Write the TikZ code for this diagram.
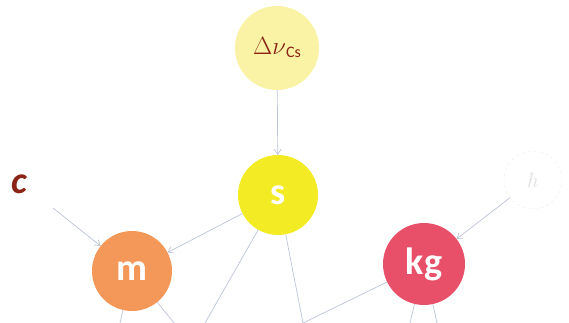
\documentclass[tikz,border=0pt]{standalone}
\usepackage{fontspec}
\setmainfont{Carlito}
\usetikzlibrary{arrows.meta}
\definecolor{paley}{HTML}{FAF3A6}
\definecolor{sy}{HTML}{F3EC24}
\definecolor{mo}{HTML}{F4985A}
\definecolor{kr}{HTML}{E8506A}
\definecolor{dred}{HTML}{8A2416}
\definecolor{lnk}{HTML}{BCC4D8}
\tikzset{
  unit/.style={circle, minimum size=80pt, inner sep=0pt, text=white, font=\fontsize{38}{38}\selectfont\bfseries},
  link/.style={draw=lnk, line width=0.7pt},
  arr/.style={link, -{Straight Barb[length=5pt,width=7pt]}},
}
\begin{document}
\begin{tikzpicture}[x=1pt,y=-1pt]
\useasboundingbox (0,0) rectangle (569,323);
\node[unit, fill=paley, minimum size=84pt, text=dred, font=\fontsize{28}{28}\selectfont] (dnu) at (277,48) {$\Delta\nu$\raisebox{-3pt}{\fontsize{16}{16}\selectfont Cs}};
\node[unit, fill=sy] (s) at (278,195) {s};
\node[unit, fill=mo] (m) at (132,271) {m};
\node[unit, fill=kr, minimum size=82pt] (kg) at (424,264) {kg};
\node[circle, minimum size=58pt, draw=gray!15, dashed, text=gray!25, font=\fontsize{20}{20}\selectfont] (h) at (533,180) {$h$};
\node[text=dred, font=\fontsize{38}{38}\selectfont\bfseries\itshape] (c) at (19,184) {c};
\coordinate (b1) at (205,323);
\coordinate (b2) at (303,323);
\coordinate (b3) at (174,323);
\coordinate (b4) at (120,323);
\coordinate (b5) at (410,323);
\coordinate (b6) at (437,323);
\draw[arr] (dnu) -- (s);
\draw[arr] (53,208) -- (m);
\draw[arr] (s) -- (m);
\draw[link] (s) -- (b1);
\draw[link] (s) -- (b2);
\draw[link] (kg) -- (b2);
\draw[link] (m) -- (b3);
\draw[link] (m) -- (b4);
\draw[link] (kg) -- (b5);
\draw[link] (kg) -- (b6);
\draw[arr] (h) -- (kg);
\end{tikzpicture}
\end{document}
